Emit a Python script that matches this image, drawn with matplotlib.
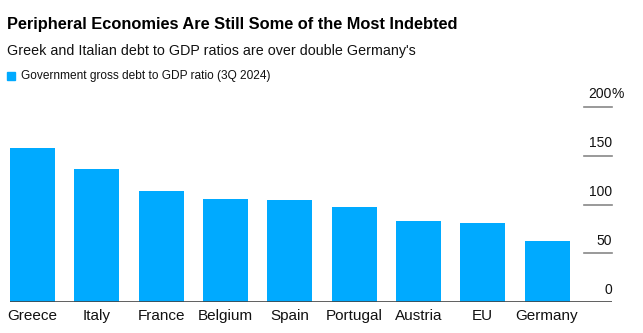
import matplotlib
matplotlib.use("Agg")
import matplotlib.pyplot as plt
from matplotlib.patches import Rectangle

W, H = 643, 333

countries = ["Greece", "Italy", "France", "Belgium", "Spain",
             "Portugal", "Austria", "EU", "Germany"]
debt_ratio = [158.2, 136.0, 113.7, 105.4, 104.2, 97.4, 82.9, 81.2, 62.3]
y_ticks = [0, 50, 100, 150, 200]

BLUE = "#00aaff"
FONT = ["Liberation Sans", "DejaVu Sans"]


def px(x, y):
    # pixel position from top-left -> figure fraction
    return x / W, 1 - y / H


fig = plt.figure(figsize=(W / 100, H / 100), dpi=100)
left, right, top, bottom = 10, 612, 106.7, 302.3
ax = fig.add_axes([left / W, 1 - bottom / H, (right - left) / W, (bottom - top) / H])

x = range(len(countries))
ax.bar(x, debt_ratio, width=0.7, color=BLUE, zorder=2)
ax.set_xlim(-0.35, 9.01)
ax.set_ylim(0, 200)

for s in ax.spines.values():
    s.set_visible(False)
ax.axhline(0, color="#444444", lw=1.2, zorder=3)
ax.set_yticks([])
ax.set_xticks(list(x))
ax.set_xticklabels(countries, fontsize=11, family=FONT, color="#111111")
ax.tick_params(axis="x", length=0, pad=5)

# short gridlines on the right with labels sitting above them
for v in y_ticks:
    if v > 0:
        ax.plot([0.953, 1.0], [v, v], transform=ax.get_yaxis_transform(),
                color="#888888", lw=1.2, clip_on=False)
    ax.annotate(f"{v}", xy=(1.0, v), xycoords=ax.get_yaxis_transform(),
                xytext=(0, 4), textcoords="offset points",
                ha="right", va="bottom", fontsize=10, family=FONT, color="#111111")
ax.annotate("%", xy=(1.0, 200), xycoords=ax.get_yaxis_transform(),
            xytext=(0, 4), textcoords="offset points",
            ha="left", va="bottom", fontsize=10, family=FONT, color="#111111")

fig.text(*px(7, 24), "Peripheral Economies Are Still Some of the Most Indebted",
         fontsize=11.8, fontweight="bold", family=FONT, va="center", ha="left")
fig.text(*px(7, 51), "Greek and Italian debt to GDP ratios are over double Germany's",
         fontsize=10.3, family=FONT, va="center", ha="left", color="#111111")
fig.patches.append(Rectangle(px(7.3, 80), 8 / W, 8 / H, transform=fig.transFigure,
                             color=BLUE, figure=fig))
fig.text(*px(21, 76.5), "Government gross debt to GDP ratio (3Q 2024)",
         fontsize=8.6, family=FONT, va="center", ha="left", color="#111111")

fig.savefig("out.png", dpi=100)
